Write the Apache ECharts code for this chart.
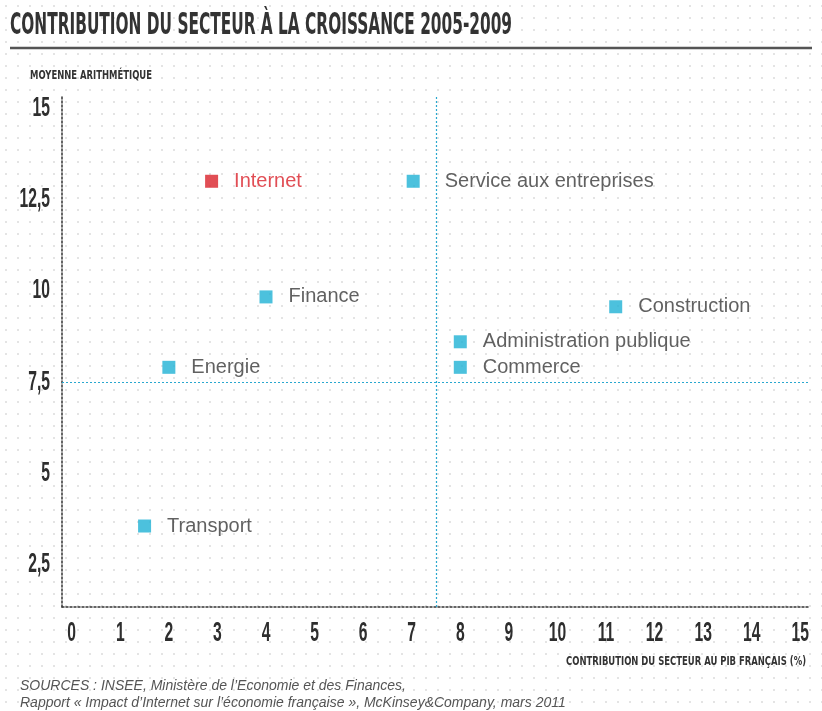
<!DOCTYPE html>
<html>
<head>
<meta charset="utf-8">
<script src="https://cdn.jsdelivr.net/npm/echarts@6/dist/echarts.min.js"></script>
<style>
  html, body { margin: 0; padding: 0; background: #fff; }
  #chart { width: 822px; height: 711px; }
</style>
</head>
<body>
<div id="chart"></div>
<script>
// ---- data ----
var sectors = ['Internet', 'Service aux entreprises', 'Finance', 'Construction',
               'Administration publique', 'Commerce', 'Energie', 'Transport'];
var pibShare = [2.88, 7.03, 4.0, 11.2, 8.0, 8.0, 2.0, 1.5];   // x : contribution au PIB (%)
var growth   = [13.0, 13.0, 9.83, 9.56, 8.6, 7.9, 7.9, 3.55]; // y : moyenne arithmétique
var highlight = 'Internet';
var meanX = 7.5, meanY = 7.5;
var xTicks = [0,1,2,3,4,5,6,7,8,9,10,11,12,13,14,15];
var yTicks = [2.5, 5, 7.5, 10, 12.5, 15];
var titleText = 'CONTRIBUTION DU SECTEUR À LA CROISSANCE 2005-2009';
var yName = 'MOYENNE ARITHMÉTIQUE';
var xName = 'CONTRIBUTION DU SECTEUR AU PIB FRANÇAIS (%)';
var source1 = 'SOURCES : INSEE, Ministère de l\u2019Economie et des Finances,';
var source2 = 'Rapport « Impact d\u2019Internet sur l\u2019économie française », McKinsey&Company, mars 2011';

// ---- helpers ----
var NARROW = '"Liberation Sans Narrow", "DejaVu Sans Condensed", "Liberation Sans", sans-serif';
var SANS = '"Liberation Sans", Arial, Helvetica, sans-serif';
var mctx = document.createElement('canvas').getContext('2d');
function fitScale(text, font, target) {
  mctx.font = font;
  return target / mctx.measureText(text).width;
}
function dotPattern() {
  var c = document.createElement('canvas');
  c.width = 12; c.height = 12;
  var g = c.getContext('2d');
  g.fillStyle = '#fff'; g.fillRect(0, 0, 12, 12);
  g.fillStyle = '#e4e4e4'; g.fillRect(5, 5, 2, 2);
  return c;
}
function fmtNum(v) { return String(v).replace('.', ','); }

var X_MIN = -0.2, X_MAX = 15.2, Y_MIN = 1.33, Y_MAX = 15.31;
var titleFont = 'bold 30px ' + NARROW;
var smallFont = 'bold 13px ' + NARROW;
var tickFont = 'bold 28px ' + SANS;
var tickScale = 0.56;

var points = sectors.map(function (name, i) {
  var isHi = name === highlight;
  return {
    name: name,
    value: [pibShare[i], growth[i]],
    itemStyle: { color: isHi ? '#d9222a' : '#1fb1d4' },
    label: {
      color: isHi ? '#d9222a' : '#3a3a3a',
      distance: name === 'Service aux entreprises' ? 25 : 16
    }
  };
});

var chart = echarts.init(document.getElementById('chart'), null, { renderer: 'canvas' });
var baseGraphics = [
  {
    type: 'text', x: 10, y: 26, scaleX: fitScale(titleText, titleFont, 502),
    style: { text: titleText, font: titleFont, fill: '#333', verticalAlign: 'middle' }
  },
  {
    type: 'line', shape: { x1: 10, y1: 48, x2: 812, y2: 48 },
    style: { stroke: '#555', lineWidth: 2.5 }
  },
  {
    type: 'text', x: 30, y: 76, scaleX: fitScale(yName, smallFont, 122),
    style: { text: yName, font: smallFont, fill: '#333', verticalAlign: 'middle' }
  },
  {
    type: 'text', x: 566, y: 662, scaleX: fitScale(xName, smallFont, 240),
    style: { text: xName, font: smallFont, fill: '#333', verticalAlign: 'middle' }
  },
  {
    type: 'text', x: 20, y: 686,
    style: { text: source1, font: 'italic 14px ' + SANS, fill: '#555', verticalAlign: 'middle' }
  },
  {
    type: 'text', x: 20, y: 703,
    style: { text: source2, font: 'italic 14px ' + SANS, fill: '#555', verticalAlign: 'middle' }
  }
];

chart.setOption({
  animation: false,
  backgroundColor: { image: dotPattern(), repeat: 'repeat' },
  grid: { left: 62, right: 12, top: 97, bottom: 104, containLabel: false, outerBoundsMode: 'none' },
  xAxis: {
    type: 'value',
    min: X_MIN, max: X_MAX,
    splitLine: { show: false },
    axisTick: { show: false },
    axisLine: { show: true, onZero: false, lineStyle: { color: '#333', width: 1.5, type: [2, 2] } },
    axisLabel: { show: false }
  },
  yAxis: {
    type: 'value',
    min: Y_MIN, max: Y_MAX,
    splitLine: { show: false },
    axisTick: { show: false },
    axisLine: { show: true, onZero: false, lineStyle: { color: '#333', width: 1.5, type: [2, 2] } },
    axisLabel: { show: false }
  },
  series: [{
    type: 'scatter',
    symbol: 'rect',
    symbolSize: 13,
    data: points,
    label: {
      show: true, position: 'right',
      formatter: '{b}',
      fontFamily: SANS, fontSize: 20
    },
    markLine: {
      silent: true,
      symbol: 'none',
      label: { show: false },
      lineStyle: { color: '#2aa8cf', width: 1.2, type: [2, 2] },
      data: [{ xAxis: meanX }, { yAxis: meanY }]
    }
  }],
  graphic: baseGraphics
});

// Tick labels: positioned through the chart's own axis scales (condensed look via scaleX)
var tickGraphics = [];
var bottomPx = chart.convertToPixel({ gridIndex: 0 }, [0, Y_MIN])[1];
var leftPx = chart.convertToPixel({ gridIndex: 0 }, [X_MIN, Y_MIN])[0];
xTicks.forEach(function (v) {
  var px = chart.convertToPixel({ gridIndex: 0 }, [v, Y_MIN]);
  tickGraphics.push({
    type: 'text', x: px[0], y: bottomPx + 26, scaleX: tickScale,
    style: { text: fmtNum(v), font: tickFont, fill: '#2e2e2e', align: 'center', verticalAlign: 'middle' }
  });
});
yTicks.forEach(function (v) {
  var px = chart.convertToPixel({ gridIndex: 0 }, [X_MIN, v]);
  tickGraphics.push({
    type: 'text', x: leftPx - 12, y: px[1], scaleX: tickScale,
    style: { text: fmtNum(v), font: tickFont, fill: '#2e2e2e', align: 'right', verticalAlign: 'middle' }
  });
});
chart.setOption({ graphic: baseGraphics.concat(tickGraphics) });
</script>
</body>
</html>
